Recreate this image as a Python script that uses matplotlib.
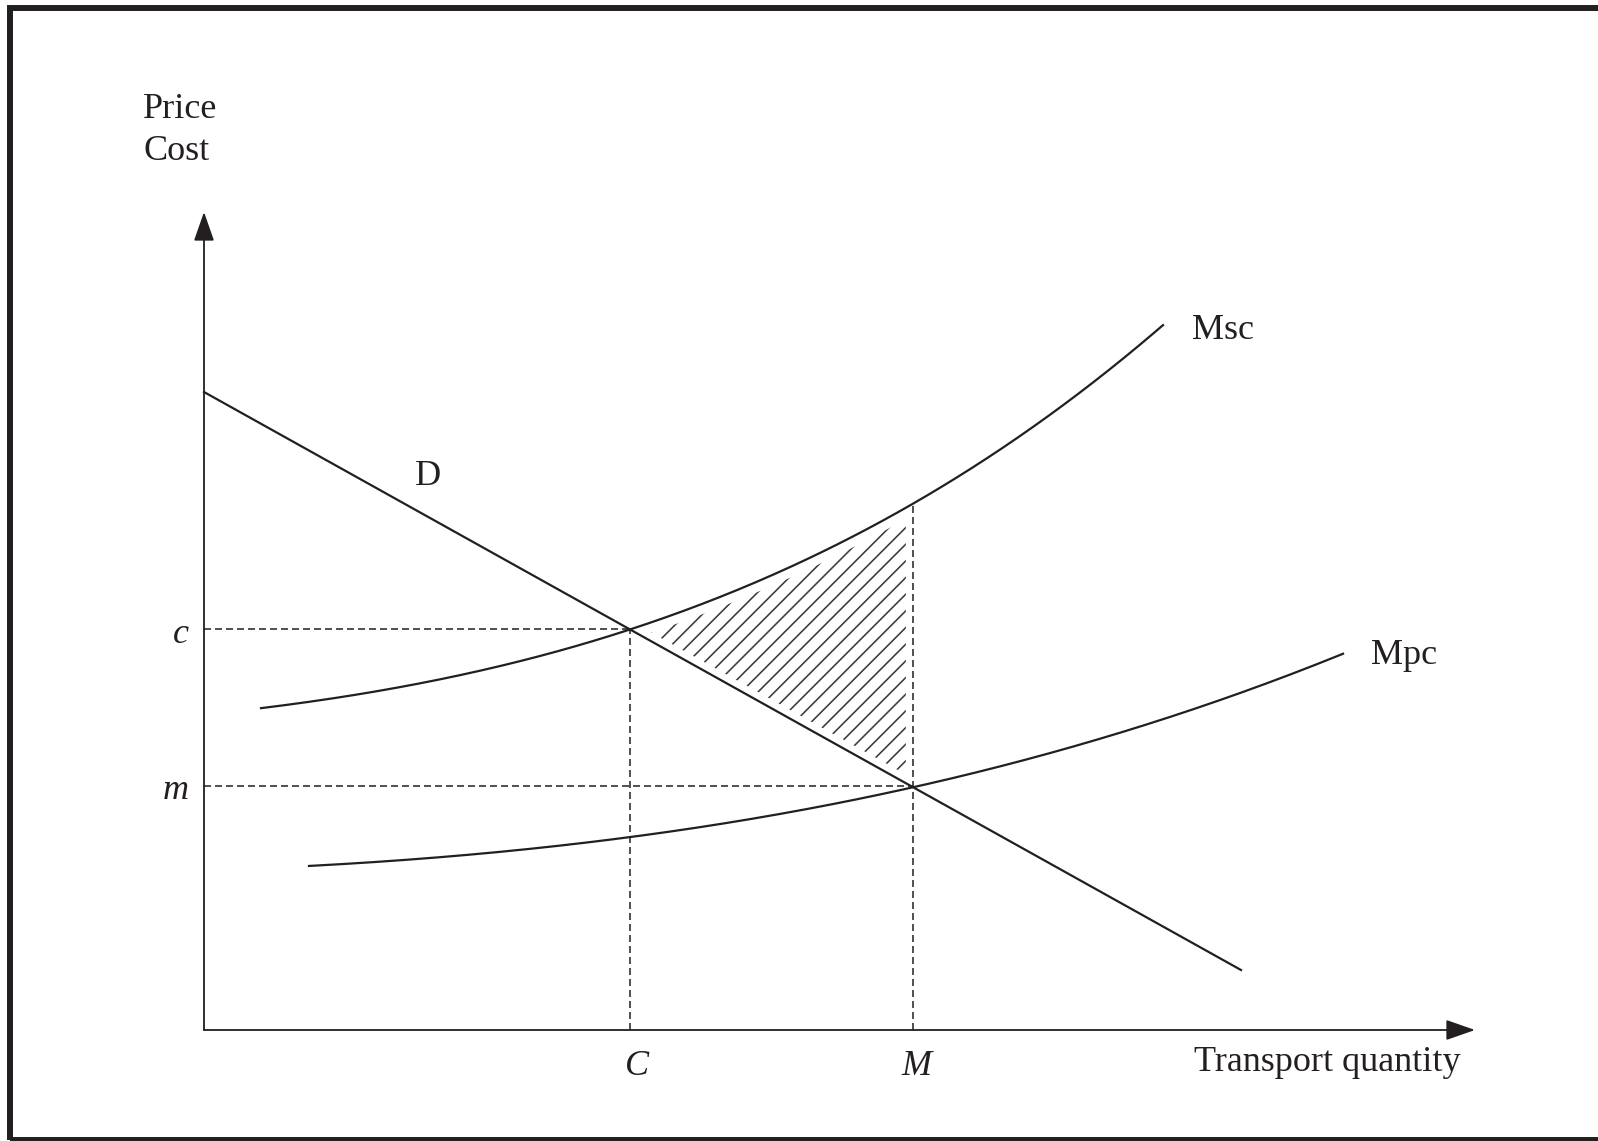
import numpy as np
import matplotlib
matplotlib.use("Agg")
import matplotlib.pyplot as plt
from matplotlib.patches import Rectangle

# ---- diagram data (quantity, price) ----
demand_q = [0.0, 10.37]
demand_p = [6.38, 0.60]

msc_q = [0.57, 0.96, 1.36, 1.86, 2.36, 2.86, 3.36, 3.81, 4.26, 4.96, 5.66, 6.36, 7.09, 7.76, 8.43, 9.09, 9.59]
msc_p = [3.22, 3.27, 3.32, 3.41, 3.51, 3.62, 3.74, 3.87, 4.01, 4.25, 4.53, 4.86, 5.26, 5.69, 6.14, 6.62, 7.05]

mpc_q = [1.05, 1.96, 2.96, 4.28, 5.46, 7.09, 8.29, 9.29, 10.29, 11.39]
mpc_p = [1.65, 1.69, 1.77, 1.93, 2.12, 2.44, 2.72, 3.00, 3.34, 3.77]

C_q, M_q = 4.26, 7.09      # quantities
c_p, m_p = 4.01, 2.44      # price levels
q_axis_end, p_axis_end = 12.71, 8.18

INK = "#231f20"
plt.rcParams['font.family'] = ['Liberation Serif', 'DejaVu Serif']
plt.rcParams['hatch.linewidth'] = 1.15


def smooth(q, p, n=300):
    # smooth cubic through the read points, just for drawing
    coef = np.polyfit(q, p, 3)
    qq = np.linspace(q[0], q[-1], n)
    return qq, np.polyval(coef, qq), coef


fig = plt.figure(figsize=(15.98, 11.41), dpi=100)
ax = fig.add_axes([0, 0, 1, 1])
ax.set_xlim(-2.04, 13.94)
ax.set_ylim(-1.11, 10.30)
ax.axis('off')

# frame (left, top, bottom - right side runs off the page)
fig.add_artist(Rectangle((9.7 / 1598, 1 - 1139.5 / 1141), 1.02, (1139.5 - 8.3) / 1141,
                         transform=fig.transFigure, fill=False, lw=4.3, edgecolor=INK))

msc_x, msc_y, msc_coef = smooth(msc_q, msc_p)
mpc_x, mpc_y, _ = smooth(mpc_q, mpc_p)

# hatched welfare loss between D and Msc, from C to M
xs = np.linspace(C_q, M_q, 200)
lower = np.interp(xs, demand_q, demand_p)
upper = np.polyval(msc_coef, xs)
msc_top = np.polyval(msc_coef, M_q)
ax.fill_between(xs, lower, upper, facecolor='none', edgecolor='#3a3a3a', hatch='//', linewidth=0, zorder=1)
# white margins so the hatching stops short of the borders
ax.plot(xs, lower, color='white', lw=11, solid_capstyle='butt', zorder=2)
ax.plot(xs, upper, color='white', lw=14, solid_capstyle='butt', zorder=2)
ax.plot([M_q, M_q], [m_p, msc_top], color='white', lw=11, solid_capstyle='butt', zorder=2)

# axes with arrows
arrow = dict(arrowstyle='-|>,head_length=0.4,head_width=0.14', mutation_scale=45,
             color=INK, lw=1.3, shrinkA=0, shrinkB=0)
ax.annotate('', xy=(0, p_axis_end), xytext=(0, 0), arrowprops=arrow, zorder=4)
ax.annotate('', xy=(q_axis_end, 0), xytext=(0, 0), arrowprops=arrow, zorder=4)

# curves
ax.plot(demand_q, demand_p, color=INK, lw=1.6, zorder=3)
ax.plot(msc_x, msc_y, color=INK, lw=1.6, zorder=3)
ax.plot(mpc_x, mpc_y, color=INK, lw=1.6, zorder=3)

# dashed guides
dash = dict(color=INK, lw=1.1, dashes=(4.6, 2.6), zorder=3)
ax.plot([0, C_q], [c_p, c_p], **dash)
ax.plot([C_q, C_q], [0, c_p], **dash)
ax.plot([0, M_q], [m_p, m_p], **dash)
ax.plot([M_q, M_q], [0, msc_top], **dash)

# labels
fs = 26
ax.text(-0.61, 9.12, "Price", fontsize=fs, color=INK, va='baseline', ha='left')
ax.text(-0.61, 8.70, "Cost", fontsize=fs, color=INK, va='baseline', ha='left')
ax.text(2.11, 5.45, "D", fontsize=fs, color=INK, va='baseline', ha='left')
ax.text(9.88, 6.91, "Msc", fontsize=fs, color=INK, va='baseline', ha='left')
ax.text(11.67, 3.66, "Mpc", fontsize=fs, color=INK, va='baseline', ha='left')
ax.text(-0.15, 3.87, "c", fontsize=fs, color=INK, style='italic', va='baseline', ha='right')
ax.text(-0.15, 2.31, "m", fontsize=fs, color=INK, style='italic', va='baseline', ha='right')
ax.text(4.33, -0.45, "C", fontsize=fs, color=INK, style='italic', va='baseline', ha='center')
ax.text(7.12, -0.45, "M", fontsize=fs, color=INK, style='italic', va='baseline', ha='center')
ax.text(9.90, -0.41, "Transport quantity", fontsize=fs, color=INK, va='baseline', ha='left')

fig.savefig("out.png", dpi=100)
